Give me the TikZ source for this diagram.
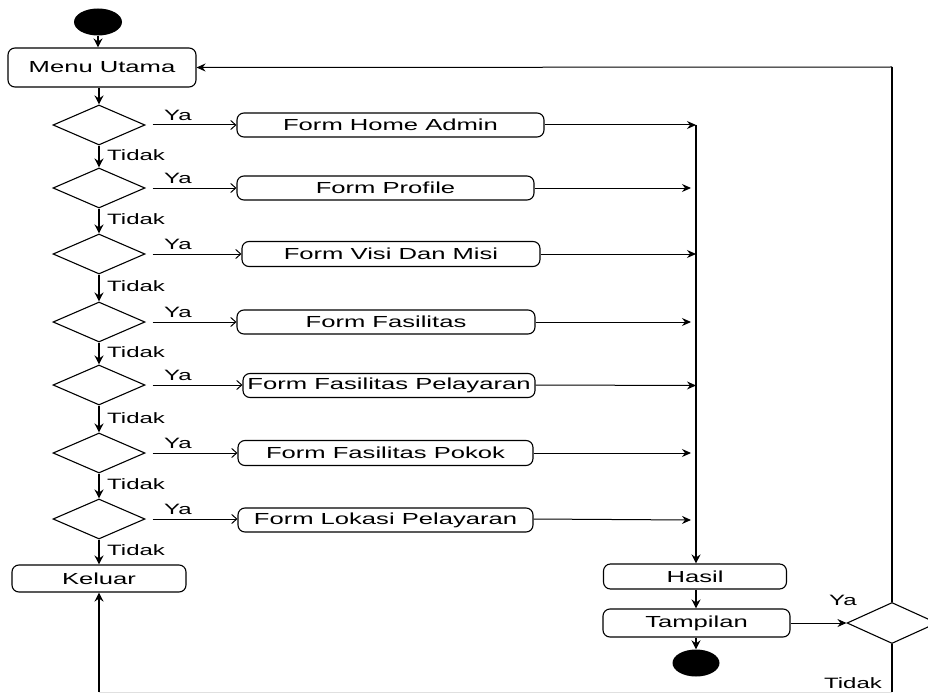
\documentclass[tikz,border=0pt]{standalone}
\usepackage{fontspec}
\setmainfont{Liberation Sans}[FakeStretch=1.6]
\usetikzlibrary{shapes.geometric,arrows.meta}
\tikzset{
  box/.style={draw, rounded corners=7bp, line width=1.1bp, inner sep=0pt, minimum height=24bp, font=\fontsize{16bp}{19bp}\selectfont},
  dia/.style={draw, diamond, inner sep=0pt, minimum width=92bp, minimum height=40bp, line width=1.1bp},
  dot/.style={ellipse, fill=black, inner sep=0pt, minimum width=48bp, minimum height=27bp},
  flow/.style={line width=1.3bp, -{Stealth[length=9bp,width=9bp,inset=3bp]}},
  hub/.style={line width=1bp, -{Stealth[length=9bp,width=8bp,inset=3bp]}},
  ya/.style={line width=1bp, -{Straight Barb[length=5bp,width=9bp]}},
  plain/.style={line width=1.2bp},
  faint/.style={line width=1bp, draw=black!12},
  lbl/.style={inner sep=0pt, font=\fontsize{15bp}{18bp}\selectfont},
}
\begin{document}
\begin{tikzpicture}[x=1bp,y=-1bp]
\useasboundingbox[fill=white] (0,0) rectangle (928,695);
% start / menu
\node[dot] (start) at (98,22) {};
\node[box, minimum width=188bp, minimum height=39bp] (menu) at (102,67.5) {Menu Utama};
% decisions
\foreach \i/\y in {1/125,2/188,3/254,4/322,5/385,6/453,7/519}{
  \node[dia] (d\i) at (99,\y) {};
}
% forms
\node[box, minimum width=307bp] (f1) at (390.5,125) {Form Home Admin};
\node[box, minimum width=297bp] (f2) at (385.5,188) {Form Profile};
\node[box, minimum width=298bp, minimum height=25bp] (f3) at (391,254) {Form Visi Dan Misi};
\node[box, minimum width=298bp] (f4) at (386,322) {Form Fasilitas};
\node[box, minimum width=292bp] (f5) at (389,385.5) {Form Fasilitas Pelayaran};
\node[box, minimum width=295bp, minimum height=25bp] (f6) at (385.5,453) {Form Fasilitas Pokok};
\node[box, minimum width=295bp] (f7) at (385.5,520) {Form Lokasi Pelayaran};
% exit, results
\node[box, minimum width=174bp, minimum height=27bp] (keluar) at (99,578.5) {Keluar};
\node[box, minimum width=183bp, minimum height=25bp] (hasil) at (695,576.5) {Hasil};
\node[box, minimum width=187bp, minimum height=28bp] (tampil) at (696.5,623) {Tampilan};
\node[dot, minimum width=47bp] (end) at (696,663) {};
\node[dia, minimum width=90bp, minimum height=41bp] (d8) at (892,623) {};
% hub coordinates
\coordinate (h1) at (696,125);
\coordinate (h2) at (691,188);
\coordinate (h3) at (696,254);
\coordinate (h4) at (691,322);
\coordinate (h5) at (696,385.5);
\coordinate (h6) at (691,453);
\coordinate (h7) at (691,520);
\coordinate (top) at (696,125);
\coordinate (rt) at (892,67);
\coordinate (br) at (892,692);
\coordinate (bl) at (99,692);
% connectors
\draw[flow] (start) -- (menu.north -| start);
\draw[flow] (menu.south -| d1) -- (d1.north);
\foreach \a/\b in {1/2,2/3,3/4,4/5,5/6,6/7}{
  \draw[flow] (d\a.south) -- (d\b.north);
}
\draw[flow] (d7.south) -- (keluar.north -| d7);
\foreach \i in {1,...,7}{
  \draw[ya] (d\i.east) ++(7,0) coordinate (ys\i) -- (f\i.west |- d\i);
  \draw[hub] (f\i.east |- d\i) -- (h\i);
}
\foreach \i/\y in {1/125,2/188,3/254,4/322,5/385,6/453,7/519}{
  \node[lbl] (ya\i) at (178,\y-10) {Ya};
}
\foreach \i/\y in {1/155,2/219,3/286,4/352,5/418,6/484,7/550}{
  \node[lbl, anchor=west] (td\i) at (107,\y) {Tidak};
}
\draw[flow] (top) -- (hasil.north -| top);
\draw[flow] (hasil.south -| top) -- (tampil.north -| top);
\draw[flow] (tampil.south -| end) -- (end.north);
\draw[hub] (tampil.east) -- (d8.west);
\draw[plain] (d8.north) -- (rt);
\draw[hub] (rt) -- (menu.east);
\draw[plain] (d8.south) -- (br);
\draw[faint] (br) -- (bl);
\draw[flow] (bl) -- (keluar.south);
\node[lbl] (ya8) at (843,600) {Ya};
\node[lbl] (td8) at (853,683) {Tidak};
\end{tikzpicture}
\end{document}
